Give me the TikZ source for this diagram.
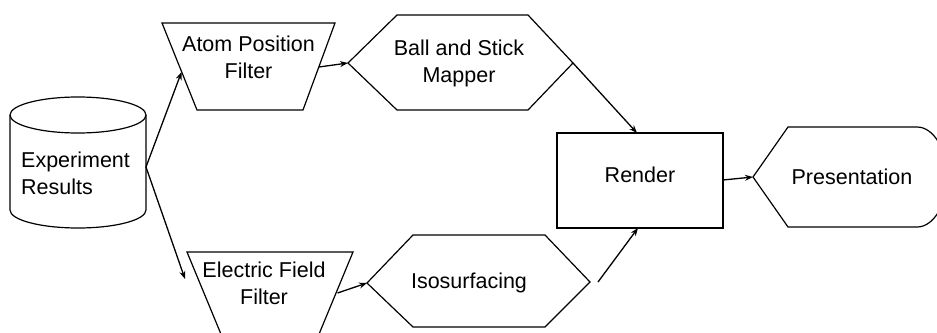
\documentclass[tikz,border=0pt]{standalone}
\usepackage{fontspec}
\setmainfont{Liberation Sans}
\usetikzlibrary{arrows.meta}
\begin{document}
\begin{tikzpicture}[x=1pt,y=-1pt,
  shapeline/.style={draw=black,line width=1.2pt,line join=miter},
  conn/.style={draw=black,line width=1.3pt,-{Stealth[length=8pt,width=6pt]}},
  lbl/.style={font=\fontsize{21.5}{27}\selectfont,align=center,inner sep=0pt}]
\clip (0,0) rectangle (937,332);
\fill[white] (0,0) rectangle (937,332);
% Experiment Results cylinder
\draw[shapeline] (10,115) -- (10,210) arc[start angle=180,end angle=0,x radius=68,y radius=18] -- (146,115);
\draw[shapeline] (78,115) ellipse[x radius=68,y radius=18];
\node[lbl,align=left,anchor=west] (exp) at (21,173.5) {Experiment\\Results};
\coordinate (cylr) at (146,167);
% Atom Position Filter
\draw[shapeline] (162,23) -- (335,23) -- (303,110) -- (197,110) -- cycle;
\node[lbl] (apf) at (248.5,57) {Atom Position\\Filter};
\coordinate (apfl) at (181.5,72);
\coordinate (apfr) at (319,67);
% Electric Field Filter
\draw[shapeline] (187,252) -- (353,252) -- (317,339) -- (223,339) -- cycle;
\node[lbl] (eff) at (264,283) {Electric Field\\Filter};
\coordinate (effl) at (185,279);
\coordinate (effr) at (337.5,293);
% Ball and Stick Mapper
\draw[shapeline] (348,63) -- (397,15) -- (528,15) -- (573,63) -- (528,110) -- (397,110) -- cycle;
\node[lbl] (bsm) at (459,63.5) {Ball and Stick\\Mapper};
\coordinate (bsml) at (348,63);
\coordinate (bsmr) at (573,63);
% Isosurfacing
\draw[shapeline] (367,283) -- (413,235) -- (545,235) -- (590,282) -- (545,327) -- (413,327) -- cycle;
\node[lbl] (iso) at (469,283) {Isosurfacing};
\coordinate (isol) at (367,283);
\coordinate (isor) at (598,282);
% Render
\node[shapeline,minimum width=166pt,minimum height=95pt,inner sep=0pt] (ren) at (640,180.5) {};
\node[lbl] (rent) at (640,175) {Render};
\coordinate (rent-top) at (637,133);
\coordinate (ren-bot) at (638,228);
\coordinate (ren-r) at (723,180);
% Presentation
\draw[shapeline] (753,177) -- (788,127) -- (917,127) arc[start angle=-90,end angle=90,x radius=30,y radius=50] -- (788,227) -- cycle;
\node[lbl] (pres) at (852,177) {Presentation};
\coordinate (presl) at (753,177);
% connectors
\draw[conn] (cylr) -- (apfl);
\draw[conn] (cylr) -- (effl);
\draw[conn] (apfr) -- (bsml);
\draw[conn] (effr) -- (isol);
\draw[conn] (bsmr) -- (rent-top);
\draw[conn] (isor) -- (ren-bot);
\draw[conn] (ren-r) -- (presl);
\end{tikzpicture}
\end{document}
